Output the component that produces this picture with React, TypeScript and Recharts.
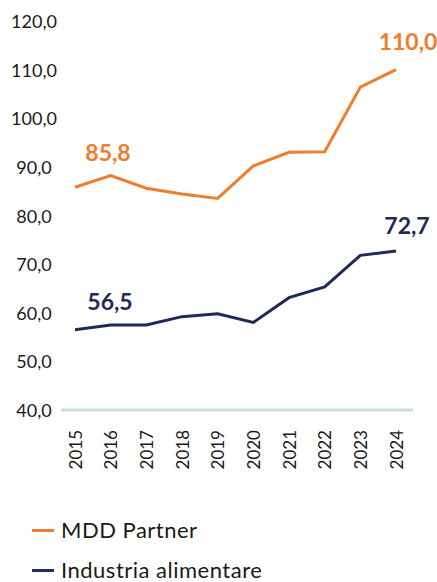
import React from "react";
import { LineChart, Line, XAxis, YAxis, Legend, LabelList } from "recharts";

const years = ["2015", "2016", "2017", "2018", "2019", "2020", "2021", "2022", "2023", "2024"];
const mddPartner = [85.8, 88.2, 85.6, 84.4, 83.5, 90.2, 93.0, 93.1, 106.4, 110.0];
const industriaAlimentare = [56.5, 57.5, 57.5, 59.2, 59.8, 58.0, 63.1, 65.3, 71.8, 72.7];
const yTicks = [40, 50, 60, 70, 80, 90, 100, 110, 120];
const seriesNames = ["MDD Partner", "Industria alimentare"];

const ORANGE = "#EF7D2C";
const NAVY = "#1F2A56";
const AXIS = "#C6DDE1";
const TEXT = "#1A1A1A";
const FONT = "Lato, 'Open Sans', sans-serif";

const data = years.map((y, i) => ({ year: y, mdd: mddPartner[i], ind: industriaAlimentare[i] }));

const fmt = (v: number) => v.toFixed(1).replace(".", ",");

const YTick = (props: any) => {
  const { x, y, payload } = props;
  return (
    <text x={x - 19} y={y} textAnchor="middle" dominantBaseline="central" fill={TEXT} fontSize={18} fontFamily={FONT}>
      {fmt(payload.value)}
    </text>
  );
};

const XTick = (props: any) => {
  const { x, y, payload } = props;
  return (
    <text
      x={x}
      y={y + 12}
      transform={`rotate(-90, ${x}, ${y + 12})`}
      textAnchor="end"
      dominantBaseline="central"
      fill={TEXT}
      fontSize={17}
      fontFamily={FONT}
    >
      {payload.value}
    </text>
  );
};

const makeLabel = (color: string, first: [number, number], last: [number, number]) => (props: any) => {
  const { x, y, value, index } = props;
  let off: [number, number] | null = null;
  if (index === 0) off = first;
  else if (index === years.length - 1) off = last;
  if (!off) return null;
  return (
    <text
      x={x + off[0]}
      y={y + off[1]}
      textAnchor="middle"
      dominantBaseline="central"
      fill={color}
      fontSize={23}
      fontWeight={700}
      fontFamily={FONT}
    >
      {fmt(value)}
    </text>
  );
};

const renderLegend = (props: any) => {
  const payload = [...(props.payload || [])].sort(
    (a: any, b: any) => seriesNames.indexOf(a.value) - seriesNames.indexOf(b.value)
  );
  return (
    <div style={{ height: 100, paddingTop: 28, boxSizing: "border-box" }}>
      {payload.map((e: any) => (
        <div key={e.value} style={{ display: "flex", alignItems: "center", height: 40, paddingLeft: 32 }}>
          <span style={{ display: "inline-block", width: 22, height: 3, background: e.color, marginRight: 7 }} />
          <span style={{ fontFamily: FONT, fontSize: 22, lineHeight: 1, letterSpacing: 0.5, color: TEXT }}>{e.value}</span>
        </div>
      ))}
    </div>
  );
};

export default function App() {
  return (
    <div style={{ position: "absolute", left: 0, top: 0, width: 437, height: 582, background: "#fff" }}>
      <LineChart width={437} height={582} data={data} margin={{ top: 21, right: 24, bottom: 0, left: 0 }}>
        <XAxis
          dataKey="year"
          padding={{ left: 14, right: 17 }}
          axisLine={{ stroke: AXIS, strokeWidth: 3 }}
          tickLine={false}
          interval={0}
          height={72}
          tick={<XTick />}
        />
        <YAxis
          domain={[40, 120]}
          ticks={yTicks}
          axisLine={false}
          tickLine={false}
          width={61}
          tick={<YTick />}
        />
        <Legend verticalAlign="bottom" align="left" content={renderLegend} wrapperStyle={{ left: 0 }} />
        <Line
          dataKey="mdd"
          name="MDD Partner"
          stroke={ORANGE}
          strokeWidth={3}
          dot={false}
          isAnimationActive={false}
        >
          <LabelList dataKey="mdd" content={makeLabel(ORANGE, [33, -35], [12, -29])} />
        </Line>
        <Line
          dataKey="ind"
          name="Industria alimentare"
          stroke={NAVY}
          strokeWidth={3}
          dot={false}
          isAnimationActive={false}
        >
          <LabelList dataKey="ind" content={makeLabel(NAVY, [35, -29], [11, -26])} />
        </Line>
      </LineChart>
    </div>
  );
}
